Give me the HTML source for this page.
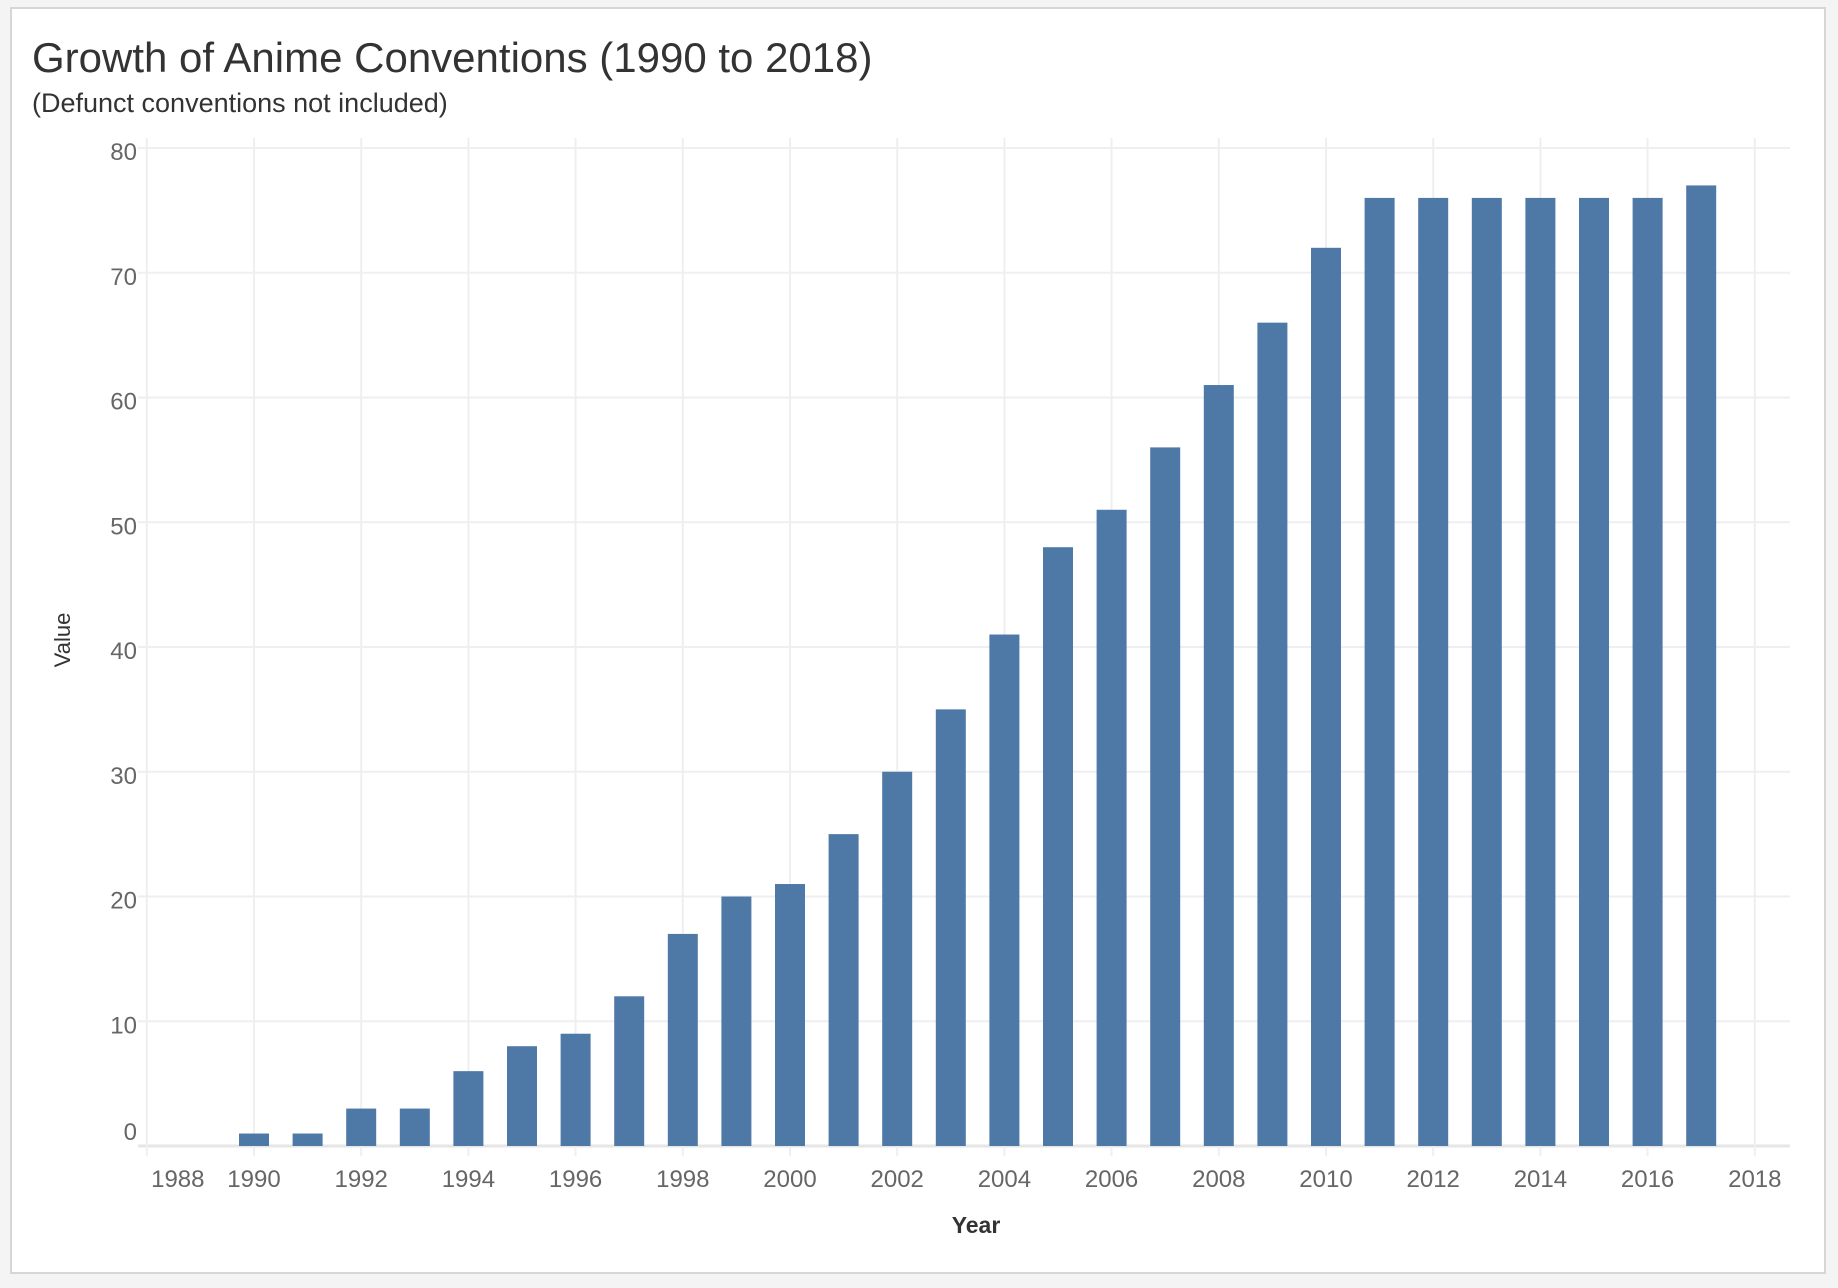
<!DOCTYPE html>
<html><head><meta charset="utf-8"><style>
html,body{margin:0;padding:0;background:#f4f4f4;}
#frame{position:absolute;left:10px;top:7px;width:1816px;height:1267px;background:#fff;border:2px solid #d6d6d6;box-sizing:border-box;}
svg{position:absolute;left:0;top:0;}
text{font-family:"Liberation Sans",sans-serif;}
</style></head><body>
<div id="frame"></div>
<svg id="chart" width="1838" height="1288">
<text x="32" y="72" font-size="42" fill="#333">Growth of Anime Conventions (1990 to 2018)</text>
<text x="32" y="112" font-size="27" fill="#333">(Defunct conventions not included)</text>
<text x="976" y="1233" font-size="23" font-weight="bold" fill="#333" text-anchor="middle">Year</text>
<text transform="translate(70,640) rotate(-90)" font-size="22" fill="#333" text-anchor="middle">Value</text>
<g id="grid"></g><g id="bars"></g><g id="labels"></g>
</svg>
<script>
const years=[1990,1991,1992,1993,1994,1995,1996,1997,1998,1999,2000,2001,2002,2003,2004,2005,2006,2007,2008,2009,2010,2011,2012,2013,2014,2015,2016,2017];
const values=[1,1,3,3,6,8,9,12,17,20,21,25,30,35,41,48,51,56,61,66,72,76,76,76,76,76,76,77];
const yTicks=[0,10,20,30,40,50,60,70,80];
const xTicks=[1988,1990,1992,1994,1996,1998,2000,2002,2004,2006,2008,2010,2012,2014,2016,2018];
const NS="http://www.w3.org/2000/svg";
const x=y=>254+(y-1990)*53.6;
const yS=v=>1146-v*12.475;
const plotL=138,plotR=1790,plotT=138;
function mk(t,a,p){const e=document.createElementNS(NS,t);for(const k in a)e.setAttribute(k,a[k]);p.appendChild(e);return e;}
const grid=document.getElementById('grid'),bars=document.getElementById('bars'),labels=document.getElementById('labels');
yTicks.forEach(v=>{
  const l=mk('line',{x1:plotL,x2:plotR,y1:yS(v),y2:yS(v),stroke:v===0?'#e6e6e6':'#efefef','stroke-width':v===0?3:2},grid);
  
  
  const t=mk('text',{x:137,y:yS(v)+(v===0?-6:12),'font-size':24,fill:'#666','text-anchor':'end'},labels);
  t.textContent=v;
  
  
});
xTicks.forEach(yr=>{
  const l=mk('line',{x1:x(yr),x2:x(yr),y1:plotT,y2:1156,stroke:'#efefef','stroke-width':2},grid);
  
  
  const t=mk('text',{x:yr===1988?x(yr)+31:x(yr),y:1187,'font-size':24,fill:'#666','text-anchor':'middle'},labels);
  t.textContent=yr;
  
  
});
years.forEach((yr,i)=>{
  const r=mk('rect',{x:x(yr)-15,y:yS(values[i]),width:30,height:yS(0)-yS(values[i]),fill:'#4e79a7'},bars);
  
  
});
</script>
</body></html>
